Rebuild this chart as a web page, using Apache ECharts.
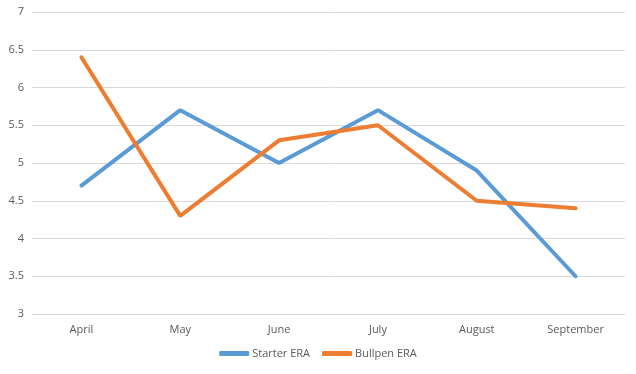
<!DOCTYPE html>
<html>
<head>
<meta charset="utf-8">
<script src="https://cdn.jsdelivr.net/npm/echarts@6/dist/echarts.min.js"></script>
<style>html,body{margin:0;padding:0;background:#fff}#c{width:636px;height:374px}</style>
</head>
<body>
<div id="c"></div>
<script>
var categories = ['April', 'May', 'June', 'July', 'August', 'September'];
var starterERA = [4.7, 5.7, 5.0, 5.7, 4.9, 3.5];
var bullpenERA = [6.4, 4.3, 5.3, 5.5, 4.5, 4.4];
var yTicks = [3, 3.5, 4, 4.5, 5, 5.5, 6, 6.5, 7];

var chart = echarts.init(document.getElementById('c'));
var font = '"Open Sans", "Noto Sans", sans-serif';
chart.setOption({
  animation: false,
  textStyle: { fontFamily: font },
  grid: { left: 32, right: 11, top: 12, bottom: 60 },
  legend: {
    bottom: 10,
    left: 'center',
    itemWidth: 30,
    itemHeight: 5,
    itemGap: 12,
    icon: 'roundRect',
    textStyle: { color: '#595959', fontSize: 11, fontFamily: font, padding: [0, 0, 0, -2] },
    data: ['Starter ERA', 'Bullpen ERA']
  },
  xAxis: {
    type: 'category',
    data: categories,
    boundaryGap: true,
    axisLine: { lineStyle: { color: '#d9d9d9' } },
    axisTick: { show: false },
    axisLabel: { color: '#595959', fontSize: 11, margin: 10 }
  },
  yAxis: {
    type: 'value',
    min: yTicks[0],
    max: yTicks[yTicks.length - 1],
    interval: 0.5,
    axisLine: { show: false },
    axisTick: { show: false },
    splitLine: { lineStyle: { color: '#d9d9d9' } },
    axisLabel: { color: '#595959', fontSize: 11, margin: 8 }
  },
  series: [
    {
      name: 'Starter ERA', type: 'line', data: starterERA,
      symbol: 'none', lineStyle: { width: 4, color: '#5B9BD5', cap: 'round' },
      itemStyle: { color: '#5B9BD5' }
    },
    {
      name: 'Bullpen ERA', type: 'line', data: bullpenERA,
      symbol: 'none', lineStyle: { width: 4, color: '#ED7D31', cap: 'round' },
      itemStyle: { color: '#ED7D31' }
    }
  ]
});
</script>
</body>
</html>
